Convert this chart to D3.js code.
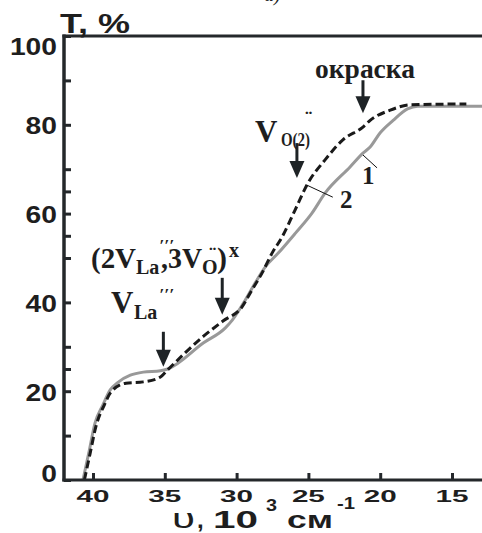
<!DOCTYPE html>
<html><head><meta charset="utf-8">
<script src="https://cdn.jsdelivr.net/npm/d3@7"></script>
<style>html,body{margin:0;padding:0;background:#fff;} svg{display:block;}</style>
</head><body>
<svg id="chart" width="482" height="533"></svg>
<script>
// ---- data ----
const xTickValues = [40, 35, 30, 25, 20, 15];
const yTickValues = [0, 20, 40, 60, 80, 100];
const yMinorTickValues = [10, 25, 30, 50, 55, 65, 70, 90];

// curve 1 (solid grey): [wavenumber 10^3 cm^-1, T %]
const curve1 = [
  [40.7, 0], [40.3, 6], [39.86, 12.8], [39.3, 17], [38.8, 20.3], [38.26, 22],
  [37.4, 23.6], [36.5, 24.3], [35.3, 24.6], [34.8, 25.0], [32.3, 30.9],
  [30.8, 34.2], [30.3, 36.0], [29.4, 40.5], [28.7, 44.4], [28.0, 48.0],
  [27.1, 51.1], [25.9, 55.6], [24.75, 60.1], [23.84, 64.6], [22.1, 70.5],
  [21.2, 73.6], [20.7, 75], [20.0, 78.2], [19.1, 81], [18.1, 83.6],
  [17.4, 84.2], [12.9, 84.2]
];
// curve 2 (dashed black)
const curve2 = [
  [40.6, 0], [40.2, 6], [39.8, 12], [39.2, 17], [38.75, 19.8], [37.7, 21.8],
  [36.5, 22.1], [35.3, 23.2], [34.8, 24.8], [32.3, 32.4], [30.95, 35.8],
  [29.62, 39.0], [28.93, 42.8], [28.23, 46.6], [27.53, 51.1], [26.84, 54.7],
  [25.93, 60.8], [25.03, 66.9], [23.84, 72.1], [22.6, 76.6], [21.2, 79.5],
  [20.7, 81], [19.3, 83.3], [17.9, 84.5], [14.0, 84.7]
];
// arrow tips (data coordinates)
const arrowTips = [[21.2, 82.6], [25.8, 68.0], [31.0, 37.2], [35.1, 25.5]];
// leader lines for curve numbers
const leaderFrom = [[21.2, 73.2], [25.1, 66.4]];
const leaderTo = [[20.22, 70.3], [23.3, 63.7]];
const leaderLabels = ["1", "2"];

// ---- chart ----
const svg = d3.select("#chart");
const W = 482, H = 533;
const x = d3.scaleLinear().domain([40, 15]).range([93, 452]);
const y = d3.scaleLinear().domain([0, 100]).range([480, 36]);
const axisColor = "#24282b";
const textColor = "#1e1e1e";
const sans = "'Liberation Sans', Arial, sans-serif";
const serif = "'Liberation Serif', 'Times New Roman', serif";
const left = 64, right = W;

// clip
svg.append("defs").append("clipPath").attr("id", "plot")
  .append("rect").attr("x", left).attr("y", 20).attr("width", right - left).attr("height", 462);

// curves
const line = d3.line().x(d => x(d[0])).y(d => y(d[1])).curve(d3.curveMonotoneX);
const g = svg.append("g").attr("clip-path", "url(#plot)");
g.append("path").datum(curve1).attr("d", line)
  .attr("fill", "none").attr("stroke", "#999999").attr("stroke-width", 3);
g.append("path").datum(curve2).attr("d", line)
  .attr("fill", "none").attr("stroke", "#1a1a1a").attr("stroke-width", 3)
  .attr("stroke-dasharray", "8,4");

// axes: ticks via d3 axes
const xAxis = d3.axisBottom(x).tickValues(xTickValues).tickSize(-7).tickFormat("");
svg.append("g").attr("transform", `translate(0,${y(0)})`).call(xAxis)
  .call(s => s.select(".domain").remove())
  .call(s => s.selectAll("line").attr("stroke", axisColor).attr("stroke-width", 3));
const yAxis = d3.axisLeft(y).tickValues(yTickValues.concat(yMinorTickValues)).tickSize(-7).tickFormat("");
svg.append("g").attr("transform", `translate(${left},0)`).call(yAxis)
  .call(s => s.select(".domain").remove())
  .call(s => s.selectAll("line").attr("stroke", axisColor).attr("stroke-width", 3));

// spines
svg.append("line").attr("x1", left - 1.5).attr("x2", right).attr("y1", y(0)).attr("y2", y(0))
  .attr("stroke", axisColor).attr("stroke-width", 3);
svg.append("line").attr("x1", left).attr("x2", left).attr("y1", y(100) - 1.5).attr("y2", y(0) + 1.5)
  .attr("stroke", axisColor).attr("stroke-width", 3.5);
svg.append("line").attr("x1", left - 1.5).attr("x2", right).attr("y1", y(100)).attr("y2", y(100))
  .attr("stroke", axisColor).attr("stroke-width", 3);

// tick labels
svg.append("g").selectAll("text").data(xTickValues).join("text")
  .attr("x", d => x(d)).attr("y", 502)
  .attr("text-anchor", "middle")
  .attr("font-family", sans).attr("font-weight", "bold").attr("font-size", 17)
  .attr("fill", textColor)
  .attr("textLength", 33).attr("lengthAdjust", "spacingAndGlyphs")
  .text(d => d);
svg.append("g").selectAll("text").data(yTickValues).join("text")
  .attr("x", 57).attr("y", d => Math.max(55, Math.min(482, y(d) + 9.5)))
  .attr("text-anchor", "end")
  .attr("font-family", sans).attr("font-weight", "bold").attr("font-size", 24)
  .attr("fill", textColor)
  .attr("textLength", d => String(d).length * 15.7).attr("lengthAdjust", "spacingAndGlyphs")
  .text(d => d);

// helper for text pieces
function t(xp, yp, str, size, family, weight, len, style) {
  const el = svg.append("text").attr("x", xp).attr("y", yp)
    .attr("font-family", family).attr("font-size", size)
    .attr("font-weight", weight || "bold").attr("fill", textColor).text(str);
  if (len) el.attr("textLength", len).attr("lengthAdjust", "spacingAndGlyphs");
  if (style) el.attr("font-style", style);
  return el;
}

// axis titles
t(60, 33, "T, %", 28, sans, "bold", 70);
t(172, 528, "υ", 27, sans, "normal", 23);
t(197, 528, ",", 24, sans, "bold");
t(213, 528, "10", 24, sans, "bold", 45);
t(266, 511, "3", 16, sans, "bold", 11);
t(287, 528, "см", 24, sans, "bold", 46);
t(337, 509, "-1", 16, sans, "bold", 18);

// panel label (mostly cut off at the top)
t(264, 1, "а)", 20, serif, "normal", null, "italic");

// arrows
const arrowLen = [33, 35, 37, 35];
const arrows = svg.append("g");
arrowTips.forEach((p, i) => {
  const px = x(p[0]), py = y(p[1]);
  arrows.append("line").attr("x1", px).attr("x2", px).attr("y1", py - arrowLen[i]).attr("y2", py - 14)
    .attr("stroke", "#1e2326").attr("stroke-width", 3);
  arrows.append("path")
    .attr("d", `M${px - 7.5},${py - 17}L${px + 7.5},${py - 17}L${px},${py}Z`)
    .attr("fill", "#1e2326");
});

// leader lines and curve numbers
leaderFrom.forEach((p, i) => {
  svg.append("line")
    .attr("x1", x(p[0])).attr("y1", y(p[1]))
    .attr("x2", x(leaderTo[i][0])).attr("y2", y(leaderTo[i][1]))
    .attr("stroke", "#111").attr("stroke-width", 1);
});
t(362, 184, leaderLabels[0], 25, serif, "bold");
t(340, 208, leaderLabels[1], 25, serif, "bold");

// annotation labels
t(315, 78, "окраска", 28, serif, "bold", 100);

t(255, 142, "V", 31, serif, "bold");
t(281, 146, "O(2)", 19, serif, "bold", 29);
t(305, 126, "¨", 22, serif, "bold");

t(91, 268, "(2V", 30, serif, "bold", 45);
t(136, 274, "La", 20, serif, "bold");
t(158, 251, "′′′", 16, serif, "normal", 15, "italic");
t(161, 268, ",3V", 30, serif, "bold", 41);
t(202, 274, "O", 20, serif, "bold");
t(209, 262, "¨", 22, serif, "bold");
t(217, 268, ")", 30, serif, "bold");
t(229, 257, "x", 20, serif, "bold");

t(111, 313, "V", 31, serif, "bold");
t(134, 319, "La", 20, serif, "bold");
t(158, 300, "′′′", 16, serif, "normal", 15, "italic");
</script>
</body></html>
